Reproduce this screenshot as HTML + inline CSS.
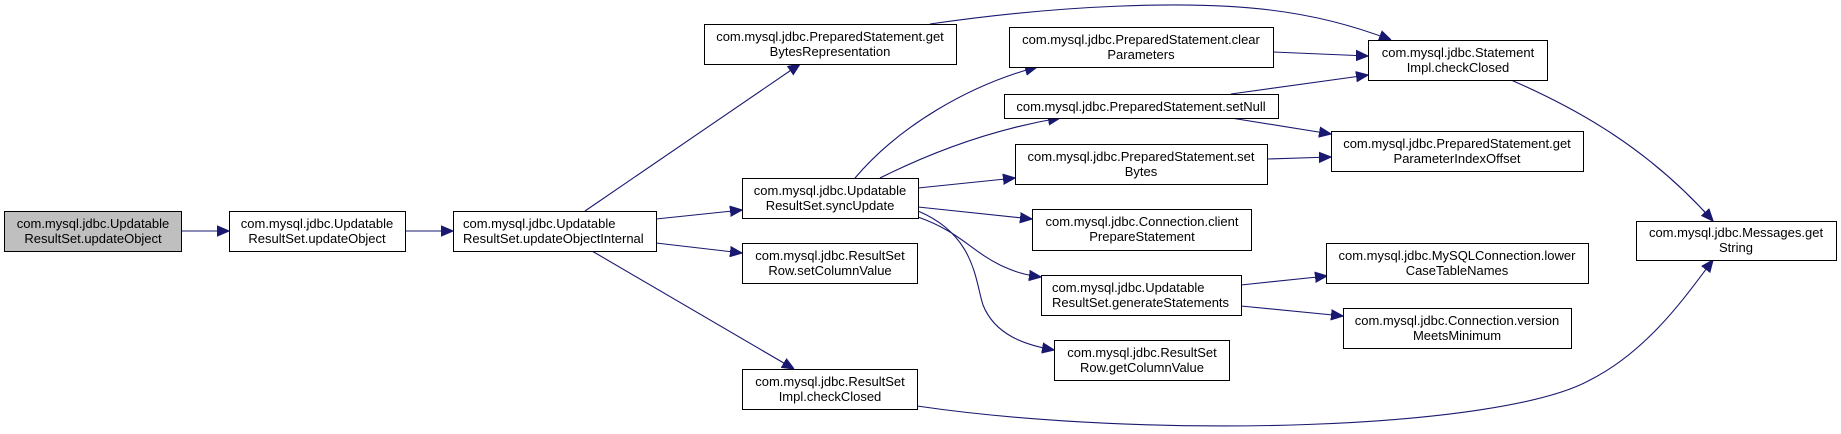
<!DOCTYPE html>
<html><head><meta charset="utf-8">
<style>
html,body{margin:0;padding:0;background:#fff;}
svg{display:block;}
text{font-family:"Liberation Sans",Arial,sans-serif;font-size:13px;fill:#000;}
</style></head><body>
<svg width="1841" height="434" viewBox="0 0 1841 434" xmlns="http://www.w3.org/2000/svg">
<defs>
<marker id="a" viewBox="0 0 10 10" refX="10" refY="5" markerWidth="12" markerHeight="12" markerUnits="userSpaceOnUse" orient="auto">
<path d="M0,0.8 L10,5 L0,9.2 z" fill="#191970" stroke="#191970"/>
</marker>
</defs>
<g fill="none" stroke="#191970" stroke-width="1.1" marker-end="url(#a)">
<path d="M182,231 L229,231"/>
<path d="M405,231 L453,231"/>
<path d="M585,211 L800,64"/>
<path d="M656,219 L742,210"/>
<path d="M656,243 L742,253"/>
<path d="M592,251 L794,369"/>
<path d="M930,24 C1060,5 1190,0 1270,10 C1320,16 1360,28 1391,40"/>
<path d="M1273,52 L1368,56"/>
<path d="M1231,94 L1368,75"/>
<path d="M1231,118 L1331,134"/>
<path d="M1267,159 L1331,157"/>
<path d="M855,178 C900,125 970,85 1037,67"/>
<path d="M880,178 C940,148 1000,128 1060,118"/>
<path d="M918,188 L1015,178"/>
<path d="M918,207 L1032,219"/>
<path d="M918,217 C960,232 970,250 1000,265 C1015,272 1025,275 1041,277"/>
<path d="M918,211 C975,235 975,280 983,305 C995,335 1025,345 1054,350"/>
<path d="M1241,285 L1327,276"/>
<path d="M1241,306 L1343,316"/>
<path d="M1511,80 C1580,110 1650,150 1713,221"/>
<path d="M917,406 C1150,440 1500,430 1590,380 C1650,350 1690,290 1713,260"/>
</g>
<g stroke="#000" stroke-width="1">
<rect x="4.5" y="211.5" width="177" height="40" fill="#bfbfbf"/>
<rect x="229.5" y="211.5" width="176" height="40" fill="#fff"/>
<rect x="453.5" y="211.5" width="203" height="40" fill="#fff"/>
<rect x="704.5" y="24.5" width="252" height="40" fill="#fff"/>
<rect x="742.5" y="178.5" width="176" height="40" fill="#fff"/>
<rect x="742.5" y="243.5" width="175" height="40" fill="#fff"/>
<rect x="742.5" y="369.5" width="175" height="40" fill="#fff"/>
<rect x="1009.5" y="27.5" width="264" height="40" fill="#fff"/>
<rect x="1004.5" y="94.5" width="274" height="24" fill="#fff"/>
<rect x="1015.5" y="144.5" width="252" height="40" fill="#fff"/>
<rect x="1032.5" y="209.5" width="219" height="41" fill="#fff"/>
<rect x="1041.5" y="275.5" width="200" height="40" fill="#fff"/>
<rect x="1054.5" y="340.5" width="175" height="40" fill="#fff"/>
<rect x="1368.5" y="40.5" width="179" height="40" fill="#fff"/>
<rect x="1331.5" y="131.5" width="252" height="40" fill="#fff"/>
<rect x="1326.5" y="243.5" width="262" height="40" fill="#fff"/>
<rect x="1343.5" y="308.5" width="228" height="40" fill="#fff"/>
<rect x="1636.5" y="221.5" width="200" height="39" fill="#fff"/>
</g>
<g text-anchor="middle">
<text x="93" y="228">com.mysql.jdbc.Updatable</text><text x="93" y="243">ResultSet.updateObject</text>
<text x="317" y="228">com.mysql.jdbc.Updatable</text><text x="317" y="243">ResultSet.updateObject</text>
<text x="830" y="41">com.mysql.jdbc.PreparedStatement.get</text><text x="830" y="56">BytesRepresentation</text>
<text x="830" y="195">com.mysql.jdbc.Updatable</text><text x="830" y="210">ResultSet.syncUpdate</text>
<text x="830" y="260">com.mysql.jdbc.ResultSet</text><text x="830" y="275">Row.setColumnValue</text>
<text x="830" y="386">com.mysql.jdbc.ResultSet</text><text x="830" y="401">Impl.checkClosed</text>
<text x="1141" y="44">com.mysql.jdbc.PreparedStatement.clear</text><text x="1141" y="59">Parameters</text>
<text x="1141" y="111">com.mysql.jdbc.PreparedStatement.setNull</text>
<text x="1141" y="161">com.mysql.jdbc.PreparedStatement.set</text><text x="1141" y="176">Bytes</text>
<text x="1142" y="226">com.mysql.jdbc.Connection.client</text><text x="1142" y="241">PrepareStatement</text>
<text x="1142" y="357">com.mysql.jdbc.ResultSet</text><text x="1142" y="372">Row.getColumnValue</text>
<text x="1458" y="57">com.mysql.jdbc.Statement</text><text x="1458" y="72">Impl.checkClosed</text>
<text x="1457" y="148">com.mysql.jdbc.PreparedStatement.get</text><text x="1457" y="163">ParameterIndexOffset</text>
<text x="1457" y="260">com.mysql.jdbc.MySQLConnection.lower</text><text x="1457" y="275">CaseTableNames</text>
<text x="1457" y="325">com.mysql.jdbc.Connection.version</text><text x="1457" y="340">MeetsMinimum</text>
<text x="1736" y="237">com.mysql.jdbc.Messages.get</text><text x="1736" y="252">String</text>
</g>
<g text-anchor="start">
<text x="463" y="228">com.mysql.jdbc.Updatable</text><text x="463" y="243">ResultSet.updateObjectInternal</text>
<text x="1052" y="292">com.mysql.jdbc.Updatable</text><text x="1052" y="307">ResultSet.generateStatements</text>
</g>
</svg>
</body></html>
